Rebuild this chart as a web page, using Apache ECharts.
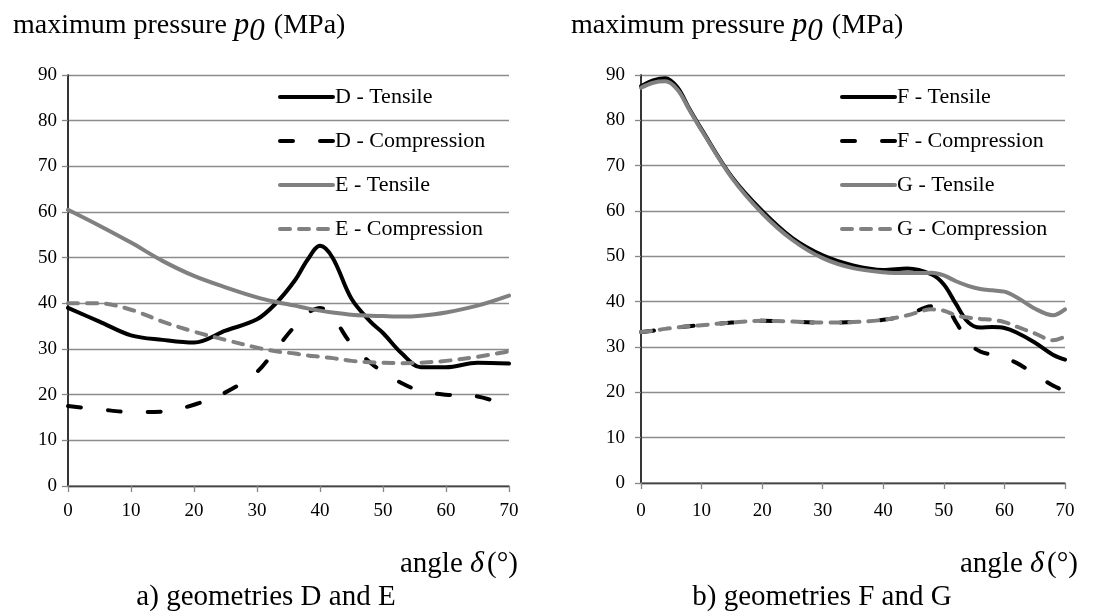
<!DOCTYPE html>
<html>
<head>
<meta charset="utf-8">
<script src="https://cdn.jsdelivr.net/npm/echarts@6/dist/echarts.min.js"></script>
<style>
html,body{margin:0;padding:0;background:#fff;}
#c{width:1107px;height:616px;}
</style>
</head>
<body>
<div id="c"></div>
<script>
// ---- data ----
const xTicks = [0, 10, 20, 30, 40, 50, 60, 70];
const yTicks = [0, 10, 20, 30, 40, 50, 60, 70, 80, 90];

const anglesLeft = [0, 5, 10, 15, 20, 25, 30, 33, 36, 38, 40, 42, 45, 48, 50, 53, 56, 60, 65, 70];
const dTensile     = [39, 36, 33, 32, 31.4, 34, 36.5, 40, 45, 49.5, 52.6, 50, 41, 36, 33.5, 29, 26, 26, 27, 26.8];
const dCompression = [17.5, 16.8, 16.2, 16.3, 17.8, 20.5, 25, 30, 35, 37.8, 39, 37, 31, 27, 25, 22.5, 20.8, 20, 19.6, 17.5];
const eTensile     = [60.5, 57, 53.3, 49.3, 46, 43.5, 41.3, 40.3, 39.5, 38.9, 38.4, 38, 37.5, 37.3, 37.2, 37.1, 37.3, 38, 39.5, 41.7];
const eCompression = [40, 40, 38.6, 36, 33.8, 32, 30.3, 29.5, 29, 28.6, 28.3, 28, 27.4, 27.1, 27, 26.9, 27, 27.4, 28.3, 29.5];

const anglesRight = [0, 2, 4, 6, 8, 10, 15, 20, 25, 30, 35, 40, 44, 48, 50, 52, 54, 56, 58, 60, 62, 65, 68, 70];
const fTensile     = [87.5, 88.8, 89.3, 87.3, 82.5, 78, 67.5, 60, 54, 50.2, 48, 47, 47.3, 46, 43.8, 39.5, 35.5, 34.3, 34.4, 34.2, 33.2, 31, 28.3, 27.2];
const fCompression = [33.3, 33.6, 34, 34.3, 34.6, 34.8, 35.4, 35.8, 35.6, 35.4, 35.5, 36, 37, 39, 39, 35.5, 31, 29, 28.3, 27.5, 26.5, 24, 21.5, 20.3];
const gTensile     = [87.2, 88.3, 88.6, 86.8, 82.3, 77.8, 67.3, 59.5, 53.6, 49.6, 47.4, 46.5, 46.3, 46.4, 45.8, 44.5, 43.5, 42.8, 42.5, 42.2, 41, 38.5, 37, 38.3];
const gCompression = [33.3, 33.6, 34, 34.3, 34.6, 34.8, 35.4, 35.8, 35.6, 35.4, 35.5, 36, 37, 38.3, 38, 37, 36.5, 36.2, 36, 35.5, 34.5, 33, 31.5, 32.3];

const seriesNamesLeft = ['D - Tensile', 'D - Compression', 'E - Tensile', 'E - Compression'];
const seriesNamesRight = ['F - Tensile', 'F - Compression', 'G - Tensile', 'G - Compression'];
const yTitle = 'maximum pressure';
const yUnit = '(MPa)';
const xTitle = 'angle';
const captionLeft = 'a) geometries D and E';
const captionRight = 'b) geometries F and G';

// ---- build ----
const FONT = '"Liberation Serif", "Times New Roman", serif';
const BLACK = '#000000', GRAY = '#808080', AXIS = '#868686';
const pairs = (xs, ys) => xs.map((x, i) => [x, ys[i]]);

function xAxisMain(gi, margin) {
  return {
    gridIndex: gi, type: 'value', min: xTicks[0], max: xTicks[xTicks.length - 1], interval: 10,
    axisLine: { show: true, lineStyle: { color: AXIS, width: 1.5 } },
    axisTick: { show: true, length: 6, lineStyle: { color: AXIS, width: 1.3 } },
    axisLabel: { color: '#000', fontFamily: FONT, fontSize: 19, margin: margin },
    splitLine: { show: false }
  };
}
function xAxisTop(gi) {
  return {
    gridIndex: gi, type: 'value', position: 'top', min: 0, max: 70,
    axisLine: { show: true, lineStyle: { color: '#444', width: 1.3 } },
    axisTick: { show: false }, axisLabel: { show: false }, splitLine: { show: false }
  };
}
function yAxisMain(gi, margin) {
  return {
    gridIndex: gi, type: 'value', min: yTicks[0], max: yTicks[yTicks.length - 1], interval: 10,
    axisLine: { show: true, lineStyle: { color: AXIS, width: 1.5 } },
    axisTick: { show: true, length: 6, lineStyle: { color: AXIS, width: 1.3 } },
    axisLabel: { color: '#000', fontFamily: FONT, fontSize: 19, margin: margin },
    splitLine: { show: true, lineStyle: { color: '#8c8c8c', width: 1.3 } }
  };
}
function yAxisRight(gi) {
  return {
    gridIndex: gi, type: 'value', position: 'right', min: 0, max: 90,
    axisLine: { show: true, lineStyle: { color: '#111', width: 1.5 } },
    axisTick: { show: false }, axisLabel: { show: false }, splitLine: { show: false }
  };
}
function mkSeries(name, xs, ys, xi, yi, color, dashed) {
  let type = 'solid';
  if (dashed === 'black') type = [13, 27];
  if (dashed === 'gray') type = [10, 9];
  return {
    name: name, type: 'line', xAxisIndex: xi, yAxisIndex: yi,
    data: pairs(xs, ys), smooth: 0.35, symbol: 'none', silent: true,
    lineStyle: { color: color, width: 4, type: type, cap: 'round', join: 'round' },
    itemStyle: { color: 'rgba(0,0,0,0)', borderWidth: 0 }
  };
}
function legend(names, left) {
  return {
    data: names, orient: 'vertical', left: left, top: 86, itemWidth: 53, itemHeight: 22, itemGap: 22,
    padding: 0,
    itemStyle: { opacity: 0 },
    lineStyle: { width: 4, cap: 'round' },
    textStyle: { fontFamily: FONT, fontSize: 22, color: '#000', lineHeight: 22, padding: [0, 0, 0, -3] },
    selectedMode: false
  };
}
const rich = {
  n: { fontFamily: FONT, fontSize: 28, fontWeight: 'normal', color: '#000' },
  i: { fontFamily: FONT, fontSize: 31, fontWeight: 'normal', fontStyle: 'italic', color: '#000' },
  s: { fontFamily: FONT, fontSize: 31, fontWeight: 'normal', fontStyle: 'italic', color: '#000', padding: [12, 2, 0, 0] }
};
const yTitleText = '{n|' + yTitle + ' }{i|p}{s|0}{n| ' + yUnit + '}';
const xTitleText = '{n|' + xTitle + ' }{i|δ}{n|(°)}';
const richX = {
  n: { fontFamily: FONT, fontSize: 29, fontWeight: 'normal', color: '#000' },
  i: { fontFamily: FONT, fontSize: 30, fontWeight: 'normal', fontStyle: 'italic', color: '#000', padding: [0, 3, 0, 0] }
};
const capStyle = { fontFamily: FONT, fontSize: 29, fontWeight: 'normal', color: '#000' };

const option = {
  backgroundColor: '#fff',
  animation: false,
  title: [
    { text: yTitleText, left: 13, top: 4, padding: 0, textStyle: { rich: rich } },
    { text: yTitleText, left: 571, top: 4, padding: 0, textStyle: { rich: rich } },
    { text: xTitleText, left: 400, top: 549, padding: 0, textStyle: { rich: richX } },
    { text: xTitleText, left: 960, top: 549, padding: 0, textStyle: { rich: richX } },
    { text: captionLeft, left: 266, textAlign: 'center', top: 583, padding: 0, textStyle: capStyle },
    { text: captionRight, left: 822, textAlign: 'center', top: 583, padding: 0, textStyle: capStyle }
  ],
  legend: [legend(seriesNamesLeft, 278), legend(seriesNamesRight, 840)],
  grid: [
    { left: 68, top: 75, width: 441, height: 411 },
    { left: 641, top: 75, width: 424, height: 408 }
  ],
  xAxis: [xAxisMain(0, 16), xAxisMain(1, 19), xAxisTop(0), xAxisTop(1)],
  yAxis: [yAxisMain(0, 11), yAxisMain(1, 16), yAxisRight(0), yAxisRight(1)],
  series: [
    mkSeries(seriesNamesLeft[0], anglesLeft, dTensile, 0, 0, BLACK, null),
    mkSeries(seriesNamesLeft[1], anglesLeft, dCompression, 0, 0, BLACK, 'black'),
    mkSeries(seriesNamesLeft[2], anglesLeft, eTensile, 0, 0, GRAY, null),
    mkSeries(seriesNamesLeft[3], anglesLeft, eCompression, 0, 0, GRAY, 'gray'),
    mkSeries(seriesNamesRight[0], anglesRight, fTensile, 1, 1, BLACK, null),
    mkSeries(seriesNamesRight[1], anglesRight, fCompression, 1, 1, BLACK, 'black'),
    mkSeries(seriesNamesRight[2], anglesRight, gTensile, 1, 1, GRAY, null),
    mkSeries(seriesNamesRight[3], anglesRight, gCompression, 1, 1, GRAY, 'gray')
  ]
};
const chart = echarts.init(document.getElementById('c'), null, { renderer: 'canvas' });
chart.setOption(option);
</script>
</body>
</html>
